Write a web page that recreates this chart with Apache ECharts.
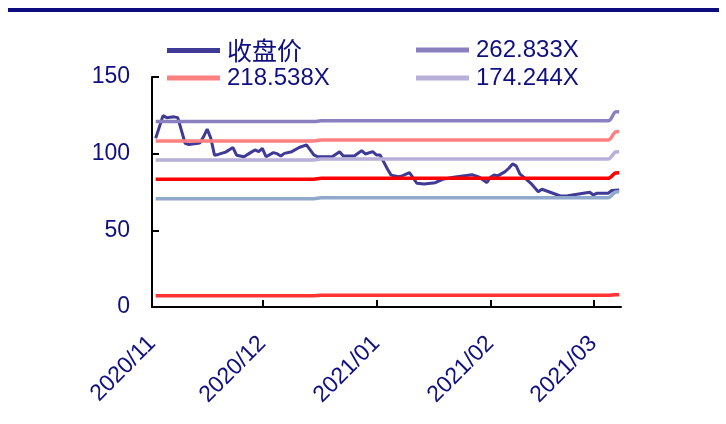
<!DOCTYPE html>
<html>
<head>
<meta charset="utf-8">
<script src="https://cdn.jsdelivr.net/npm/echarts@6/dist/echarts.min.js"></script>
<style>html,body{margin:0;padding:0;background:#fff;}#c{width:726px;height:424px;}</style>
</head>
<body>
<div id="c"></div>
<script>
// ---- data ----
const closeDates = ['2020-11-02','2020-11-04','2020-11-05','2020-11-07','2020-11-08','2020-11-10','2020-11-11','2020-11-14','2020-11-15','2020-11-16','2020-11-17','2020-11-18','2020-11-19','2020-11-21','2020-11-23','2020-11-24','2020-11-26','2020-11-28','2020-11-29','2020-11-30','2020-12-01','2020-12-02','2020-12-04','2020-12-05','2020-12-06','2020-12-07','2020-12-09','2020-12-11','2020-12-13','2020-12-15','2020-12-16','2020-12-20','2020-12-22','2020-12-23','2020-12-26','2020-12-28','2020-12-29','2020-12-31','2021-01-01','2021-01-02','2021-01-04','2021-01-05','2021-01-07','2021-01-08','2021-01-10','2021-01-12','2021-01-14','2021-01-17','2021-01-19','2021-01-22','2021-01-27','2021-01-29','2021-01-31','2021-02-01','2021-02-02','2021-02-03','2021-02-05','2021-02-06','2021-02-07','2021-02-08','2021-02-09','2021-02-11','2021-02-12','2021-02-14','2021-02-15','2021-02-18','2021-02-20','2021-02-22','2021-02-25','2021-02-28','2021-03-01','2021-03-02','2021-03-05','2021-03-06','2021-03-08'];
const closeValues = [110,124.8,123.5,124,123.5,106.8,106,107,111,116,110,99,99.5,101,104,99,98,101,102.4,101.3,103.5,98,100.7,100,98.5,100.2,101.3,104,105.7,99.2,98,98,101.3,98.5,98.5,102,99.8,101.3,99.2,99.2,90,86,85,85.5,87.6,80.7,80.2,81.1,83.3,84.6,86.3,84.6,81.1,84.6,86.1,85.5,88.3,90.5,93.3,92,86.8,82.8,80.7,75.2,76.8,74.2,72.4,72.6,73.7,74.8,73.1,74.2,74.2,76,76.3];

const bandDates = ['2020-11-02','2020-12-15','2020-12-17','2021-03-05','2021-03-07','2021-03-08'];
const band1 = [120.9,120.9,121.4,121.4,127.2,127.4];   // 262.833X
const band2 = [108.3,108.3,108.9,108.9,114.2,114.4];   // 218.538X
const band3 = [95.9,95.9,96.5,96.5,101.1,101.3];       // 174.244X
const band4 = [83.3,83.3,83.9,83.9,87.4,87.6];
const band5 = [70.6,70.6,71.2,71.2,75.0,75.2];
const band6 = [7.4,7.4,7.6,7.6,8.0,8.0];

const seriesNames = ['收盘价','262.833X','218.538X','174.244X','130.000X','85.705X','41.411X'];
const monthTicks = ['2020-11-01','2020-12-01','2021-01-01','2021-02-01','2021-03-01'];
const yTicks = [0,50,100,150];

// ---- chart ----
function ts(s){ const p = s.split('-').map(Number); return new Date(p[0], p[1]-1, p[2]).getTime(); }
const zip = (d, v) => d.map((x, i) => [ts(x), v[i]]);
const tickVals = monthTicks.map(ts);
const navy = '#0f0f82';
const colors = ['#3f3a96','#8a80c0','#ff8080','#b8b0d8','#ff0000','#8fa8cc','#ff3333'];
const bands = [band1, band2, band3, band4, band5, band6];

const series = [{
  name: seriesNames[0], type: 'line', data: zip(closeDates, closeValues),
  showSymbol: false, lineStyle: {width: 3, color: colors[0]}, itemStyle: {color: colors[0]}, z: 2
}];
bands.forEach((b, i) => series.push({
  name: seriesNames[i+1], type: 'line', data: zip(bandDates, b), smooth: 0.3,
  showSymbol: false, lineStyle: {width: 3.5, color: colors[i+1]}, itemStyle: {color: colors[i+1]}, z: 3
}));

const legendText = {color: navy, fontSize: 24, fontFamily: '"Liberation Sans",Arial,sans-serif'};
function lg(name, left, top){
  return {data: [name], left: left, top: top, itemWidth: 53, itemHeight: 5, icon: 'rect',
    itemGap: 0, padding: 0,
    textStyle: Object.assign({padding: [0, 0, 0, 2]}, legendText, name === '收盘价' ? {fontFamily: '"Noto Sans CJK SC",sans-serif', fontSize: 25} : {}),
    selectedMode: false};
}

const chart = echarts.init(document.getElementById('c'), null, {renderer: 'canvas'});
chart.setOption({
  animation: false,
  backgroundColor: '#fff',
  graphic: [{type: 'rect', shape: {x: 8, y: 8, width: 711, height: 4}, style: {fill: '#0d0d80'}}],
  legend: [lg('收盘价', 167, 38), lg('262.833X', 416, 38), lg('218.538X', 167, 66), lg('174.244X', 416, 66)],
  grid: {left: 152, right: 105, top: 77, bottom: 117},
  xAxis: {
    type: 'value', min: ts('2020-11-01'), max: ts('2021-03-08') + 12*3600*1000,
    axisLine: {lineStyle: {color: '#000', width: 2}},
    axisTick: {show: true, inside: true, length: 7, lineStyle: {color: '#000', width: 2}, customValues: tickVals},
    axisLabel: {customValues: tickVals, rotate: 45, color: navy, fontSize: 23, margin: 33,
      fontFamily: '"Liberation Sans",Arial,sans-serif',
      formatter: v => { const d = new Date(v); return d.getFullYear() + '/' + String(d.getMonth()+1).padStart(2,'0'); }},
    splitLine: {show: false}
  },
  yAxis: {
    type: 'value', min: yTicks[0], max: yTicks[yTicks.length-1], interval: 50,
    axisLine: {show: true, lineStyle: {color: '#000', width: 2}},
    axisTick: {show: true, inside: true, length: 7, lineStyle: {color: '#000', width: 2}},
    axisLabel: {color: navy, fontSize: 23, margin: 22, fontFamily: '"Liberation Sans",Arial,sans-serif'},
    splitLine: {show: false}
  },
  series: series
});
</script>
</body>
</html>
